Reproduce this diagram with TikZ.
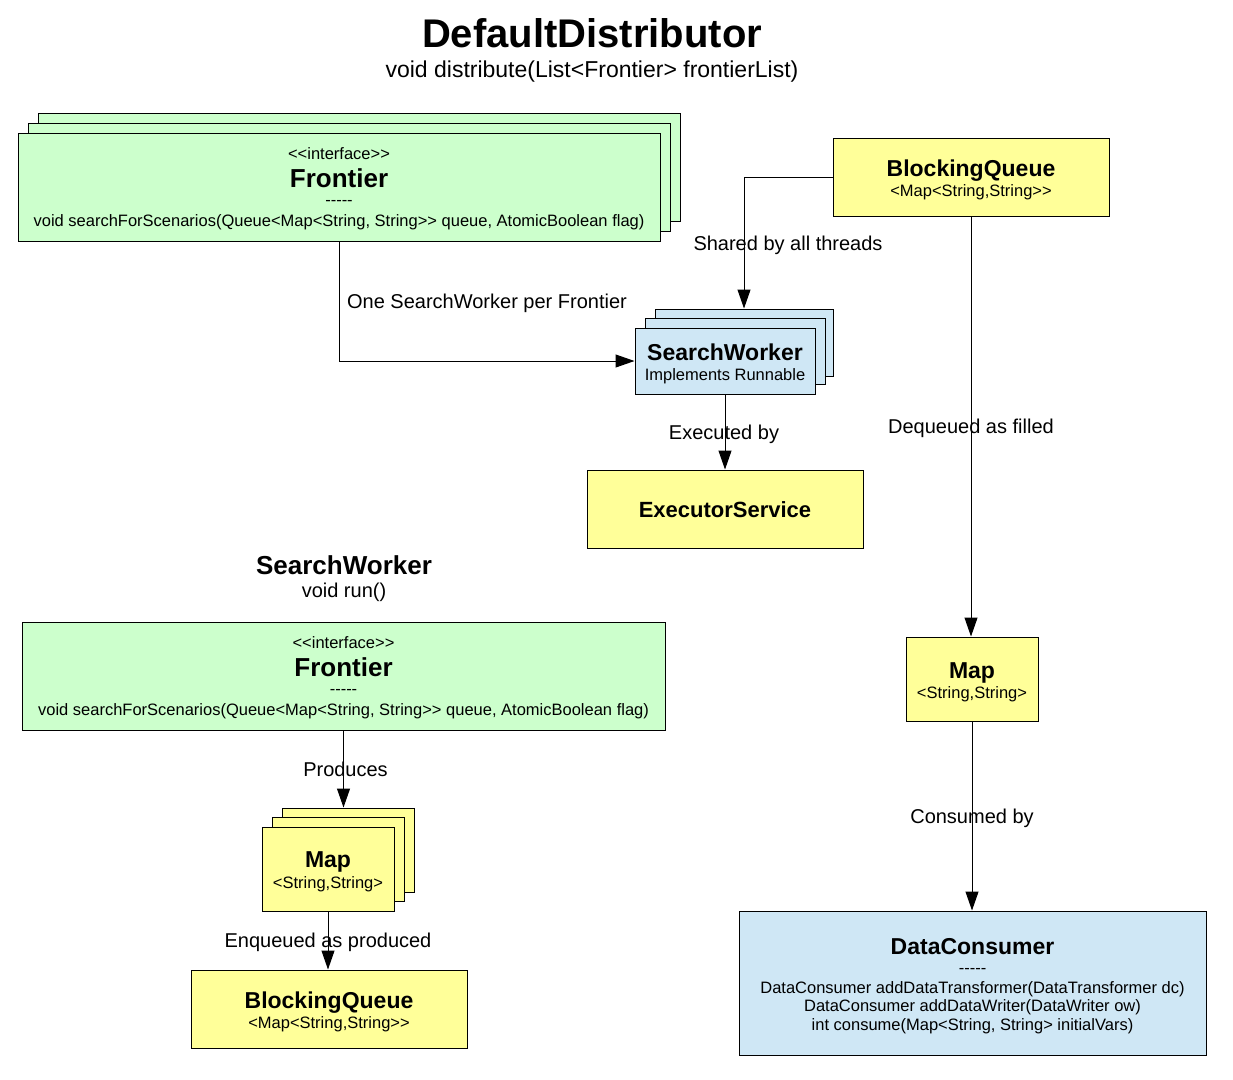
\documentclass[tikz,border=0pt]{standalone}
\usepackage{fontspec}
\setmainfont[Ligatures=TeXOff]{Liberation Sans}
\usetikzlibrary{arrows.meta}
\definecolor{cgreen}{HTML}{CCFFCC}
\definecolor{cyellow}{HTML}{FFFF99}
\definecolor{cblue}{HTML}{CFE7F5}
\newcommand{\fs}[1]{\fontsize{#1}{#1}\selectfont}
\tikzset{
  box/.style={draw=black, line width=1pt, rectangle, inner sep=0pt},
  gbox/.style={box, fill=cgreen},
  ybox/.style={box, fill=cyellow},
  bbox/.style={box, fill=cblue},
  txt/.style={anchor=base, inner sep=0pt},
  small/.style={txt, font=\fs{16.5}},
  bold/.style={txt, font=\fs{23}\bfseries},
  lbl/.style={txt, font=\fs{20}},
  arr/.style={draw=black, line width=1pt, -{Triangle[length=19pt, width=13pt]}}
}
\begin{document}
\begin{tikzpicture}[x=1pt, y=-1pt]
\useasboundingbox (0,0) rectangle (1233,1079);
% Titles
\node[txt, font=\fs{40}\bfseries] (t1) at (592,47) {DefaultDistributor};
\node[txt, font=\fs{23}] (t2) at (592,77) {void distribute(List<Frontier> frontierList)};
% Frontier stack top
\node[gbox, minimum width=642, minimum height=108] (fr1c) at (359,167) {};
\node[gbox, minimum width=642, minimum height=108] (fr1b) at (349,177) {};
\node[gbox, minimum width=642, minimum height=108] (fr1) at (339,187) {};
\node[small] (fr1s) at (339,159) {<<interface>>};
\node[txt, font=\fs{26}\bfseries] (fr1n) at (339,187) {Frontier};
\node[small] (fr1d) at (339,205.5) {-----};
\node[small] (fr1m) at (339,226) {void searchForScenarios(Queue<Map<String, String>> queue, AtomicBoolean flag)};
% BlockingQueue top
\node[ybox, minimum width=276, minimum height=78] (bq1) at (971,177) {};
\node[bold] (bq1n) at (971,176) {BlockingQueue};
\node[small] (bq1s) at (971,196) {<Map<String,String>>};
% SearchWorker stack
\node[bbox, minimum width=178, minimum height=67] (sw3) at (744,342.5) {};
\node[bbox, minimum width=180, minimum height=66] (sw2) at (735,351) {};
\node[bbox, minimum width=180, minimum height=66] (sw1) at (725,361) {};
\node[bold] (sw1n) at (725,360) {SearchWorker};
\node[small] (sw1s) at (725,380) {Implements Runnable};
% ExecutorService
\node[ybox, minimum width=276, minimum height=78] (ex) at (725,509) {};
\node[txt, font=\fs{22}\bfseries] (exn) at (725,517) {ExecutorService};
% SearchWorker heading
\node[txt, font=\fs{26}\bfseries] (h1) at (344,574.5) {SearchWorker};
\node[txt, font=\fs{20}] (h2) at (344,597) {void run()};
% Frontier lower
\node[gbox, minimum width=643, minimum height=108] (fr2) at (343.5,676) {};
\node[small] (fr2s) at (343.5,648) {<<interface>>};
\node[txt, font=\fs{26}\bfseries] (fr2n) at (343.5,676) {Frontier};
\node[small] (fr2d) at (343.5,694.5) {-----};
\node[small] (fr2m) at (343.5,715) {void searchForScenarios(Queue<Map<String, String>> queue, AtomicBoolean flag)};
% Map stack lower
\node[ybox, minimum width=132, minimum height=84] (mp3) at (348,850) {};
\node[ybox, minimum width=132, minimum height=84] (mp2) at (338,859) {};
\node[ybox, minimum width=132, minimum height=84] (mp1) at (328,869) {};
\node[bold] (mp1n) at (328,867.5) {Map};
\node[small] (mp1s) at (328,888) {<String,String>};
% BlockingQueue lower
\node[ybox, minimum width=276, minimum height=78] (bq2) at (329,1009) {};
\node[bold] (bq2n) at (329,1008) {BlockingQueue};
\node[small] (bq2s) at (329,1028) {<Map<String,String>>};
% Map right
\node[ybox, minimum width=132, minimum height=84] (mr) at (972,679) {};
\node[bold] (mrn) at (972,678.5) {Map};
\node[small] (mrs) at (972,698) {<String,String>};
% DataConsumer
\node[bbox, minimum width=467, minimum height=144] (dc) at (972.5,983) {};
\node[bold] (dcn) at (972.5,954) {DataConsumer};
\node[small] (dcd) at (972.5,973.5) {-----};
\node[small] (dc1) at (972.5,993) {DataConsumer addDataTransformer(DataTransformer dc)};
\node[small] (dc2) at (972.5,1011) {DataConsumer addDataWriter(DataWriter ow)};
\node[small] (dc3) at (972.5,1030) {int consume(Map<String, String> initialVars)};
% Connectors
\draw[arr] (fr1.south) |- (sw1.west);
\draw[arr] (bq1.west) -| (sw3.north);
\draw[arr] (sw1.south) -- (ex.north);
\draw[arr] (bq1.south) -- (bq1.south |- mr.north);
\draw[arr] (mr.south) -- (mr.south |- dc.north);
\draw[arr] (fr2.south) -- (fr2.south |- mp3.north);
\draw[arr] (mp1.south) -- (mp1.south |- bq2.north);
% Labels
\node[lbl] (l1) at (487,308) {One SearchWorker per Frontier};
\node[lbl] (l2) at (788,250) {Shared by all threads};
\node[lbl] (l3) at (724,439) {Executed by};
\node[lbl] (l4) at (971,433) {Dequeued as filled};
\node[lbl] (l5) at (972,823) {Consumed by};
\node[lbl] (l6) at (345.5,776) {Produces};
\node[lbl] (l7) at (328,947) {Enqueued as produced};
\end{tikzpicture}
\end{document}
